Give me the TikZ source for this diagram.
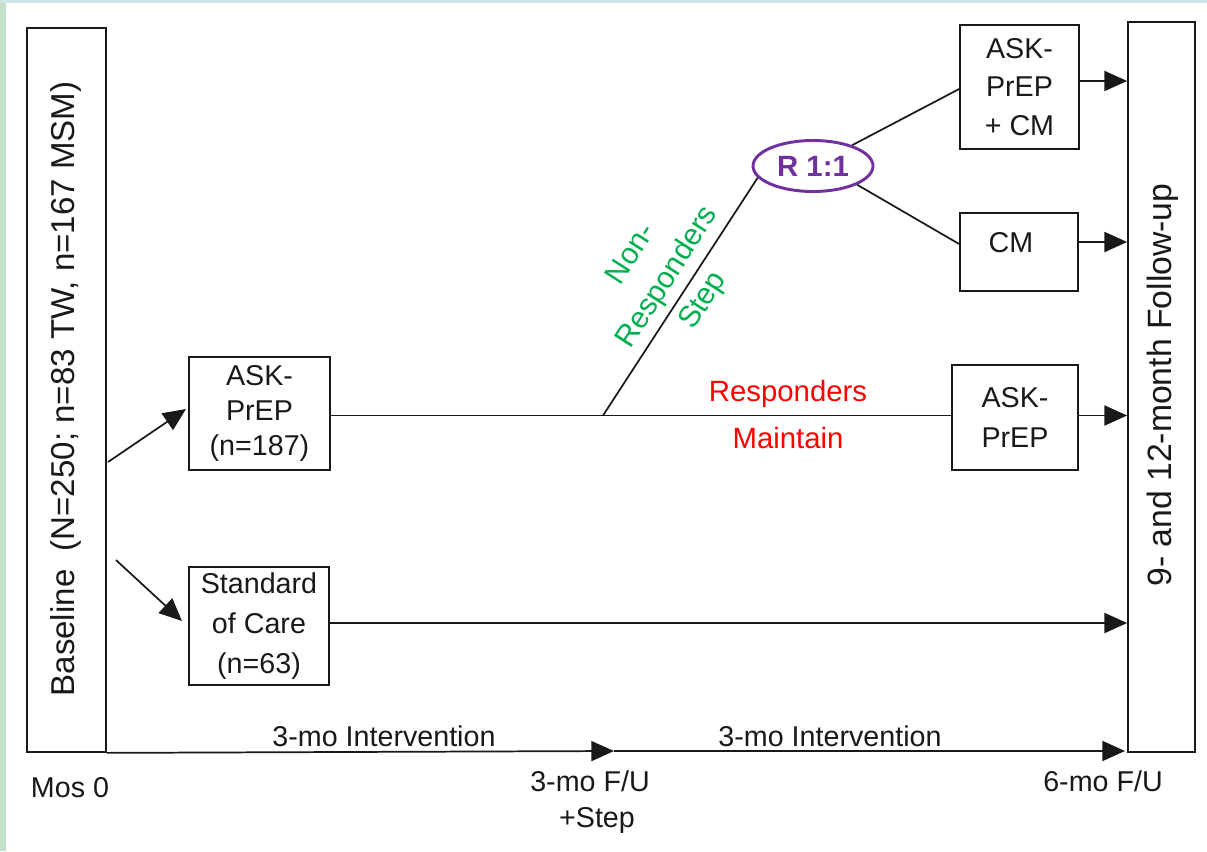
\documentclass[tikz,border=0pt]{standalone}
\usepackage{fontspec}
\setmainfont{Liberation Sans}
\usetikzlibrary{arrows.meta,shapes.geometric,calc}
\definecolor{pur}{RGB}{112,48,160}
\definecolor{grn}{RGB}{0,176,80}
\definecolor{bgg}{RGB}{197,224,200}
\definecolor{bgb}{RGB}{205,230,232}
\definecolor{ink}{RGB}{25,25,25}
\begin{document}
\begin{tikzpicture}[x=0.75pt,y=-0.75pt,
  box/.style={draw=ink, line width=1.3pt, inner sep=0pt, align=center, text=ink},
  txt/.style={font=\fontsize{21.5}{29}\selectfont, align=center, inner sep=0pt, text=ink},
  big/.style={font=\fontsize{24.8}{30}\selectfont, inner sep=0pt, text=ink},
  conn/.style={draw=ink, line width=1.3pt},
  arr/.style={draw=ink, line width=1.3pt, -{Triangle[length=17pt,width=15pt]}},
]
\useasboundingbox (0,0) rectangle (1207,851);
\fill[white] (0,0) rectangle (1207,851);
\fill[bgg] (0,0) rectangle (6,851);
\fill[bgb] (0,0) rectangle (1207,3);

% boxes
\node[box, minimum width=79*0.75pt, minimum height=724*0.75pt] (base) at (66.5,390) {};
\node[big, rotate=90] (baset) at (66,389) {Baseline\ \ (N=250; n=83 TW, n=167 MSM)};
\node[box, minimum width=67*0.75pt, minimum height=730*0.75pt] (fu) at (1161.5,387) {};
\node[big, rotate=90, font=\fontsize{25.3}{30}\selectfont] (fut) at (1163,385) {9- and 12-month Follow-up};

\node[box, minimum width=141*0.75pt, minimum height=113*0.75pt,
  font=\fontsize{21.5}{26.5}\selectfont] (ask1) at (259.5,413.5) {ASK-\\PrEP\\(n=187)};
\node[box, minimum width=140*0.75pt, minimum height=118*0.75pt,
  font=\fontsize{21.5}{30}\selectfont] (soc) at (259,626) {Standard\\of Care\\(n=63)};
\node[box, minimum width=119*0.75pt, minimum height=124*0.75pt,
  font=\fontsize{21.5}{29}\selectfont] (askcm) at (1019.5,87) {ASK-\\PrEP\\+ CM};
\node[box, minimum width=118*0.75pt, minimum height=78*0.75pt] (cm) at (1019,252) {};
\node[txt] (cmt) at (1011,243) {CM};
\node[box, minimum width=126*0.75pt, minimum height=105*0.75pt,
  font=\fontsize{21.5}{30.5}\selectfont] (ask2) at (1015,417.5) {ASK-\\PrEP};

\node[ellipse, draw=pur, line width=2.2pt, text=pur, inner sep=0pt,
  minimum width=120*0.75pt, minimum height=51*0.75pt,
  font=\fontsize{22}{24}\selectfont\bfseries] (R) at (813,166) {R 1:1};

% coordinates
\coordinate (b1) at (108,462);
\coordinate (b1t) at (186,409);
\coordinate (b2) at (116,560);
\coordinate (b2t) at (182,621);
\coordinate (sp) at (603,415.5);
\coordinate (yA) at (0,81);
\coordinate (yB) at (0,242);
\coordinate (yC) at (0,415.5);
\coordinate (yD) at (0,623);
\coordinate (t3) at (614,751);
\coordinate (t6) at (1125,751);

% connectors
\draw[arr] (b1) -- (b1t);
\draw[arr] (b2) -- (b2t);
\draw[conn] (ask1.east |- yC) -- (ask2.west |- yC);
\draw[conn] (sp) -- (R.192);
\draw[conn] (R.28) -- ($(askcm.west)+(0,2)$);
\draw[conn] (R.-23) -- ($(cm.west)+(0,-8)$);
\draw[arr] (askcm.east |- yA) -- (fu.west |- yA);
\draw[arr] (cm.east |- yB) -- (fu.west |- yB);
\draw[arr] (ask2.east |- yC) -- (fu.west |- yC);
\draw[arr] (soc.east |- yD) -- (fu.west |- yD);
\draw[arr] (base.south east) -- (t3);
\draw[arr] (t3) -- (t6);

% labels
\node[txt] (int1) at (384,736) {3-mo Intervention};
\node[txt] (int2) at (830,736) {3-mo Intervention};
\node[txt] (mos0) at (70,788) {Mos 0};
\node[txt] (f3a) at (590,781) {3-mo F/U};
\node[txt] (f3b) at (597,820) {+Step};
\node[txt] (f6) at (1103,781) {6-mo F/U};
\node[txt, text=red, font=\fontsize{22}{29}\selectfont] (resp) at (788,394) {Responders};
\node[txt, text=red, font=\fontsize{22}{29}\selectfont] (maint) at (788,438) {Maintain};
\node[txt, text=grn, rotate=57.3, font=\fontsize{22.5}{32}\selectfont] (nonr) at (668,278) {Non-\\Responders\\Step};
\end{tikzpicture}
\end{document}
